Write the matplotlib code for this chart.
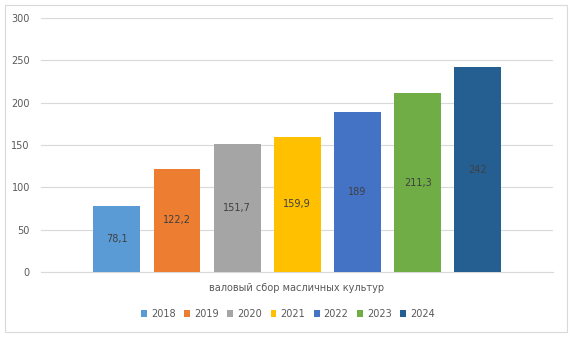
import matplotlib.pyplot as plt
from matplotlib.patches import Rectangle, Patch

years = ['2018', '2019', '2020', '2021', '2022', '2023', '2024']
values = [78.1, 122.2, 151.7, 159.9, 189, 211.3, 242]
value_labels = ['78,1', '122,2', '151,7', '159,9', '189', '211,3', '242']
colors = ['#5B9BD5', '#ED7D31', '#A5A5A5', '#FFC000', '#4472C4', '#70AD47', '#255E91']
category = 'валовый сбор масличных культур'
yticks = [0, 50, 100, 150, 200, 250, 300]

plt.rcParams['font.family'] = ['DejaVu Sans']

fig = plt.figure(figsize=(5.72, 3.37), dpi=100)
fig.patches.append(Rectangle((5 / 572, 5 / 337), 562 / 572, 327 / 337,
                             transform=fig.transFigure, fill=False,
                             edgecolor='#d9d9d9', linewidth=0.8))
ax = fig.add_axes([41 / 572, 65 / 337, 512 / 572, 254 / 337])

x = list(range(len(years)))
bars = ax.bar(x, values, width=0.78, color=colors, zorder=3)
for b, lab in zip(bars, value_labels):
    ax.text(b.get_x() + b.get_width() / 2, b.get_height() / 2, lab,
            ha='center', va='center', fontsize=7, color='#404040', zorder=4)

ax.set_xlim(-1.26, 7.25)
ax.set_ylim(0, 300)
ax.set_yticks(yticks)
ax.tick_params(axis='y', length=0, labelsize=7, labelcolor='#595959', pad=8)
ax.set_xticks([])
ax.grid(axis='y', color='#d9d9d9', linewidth=0.8, zorder=0)
for s in ['top', 'right', 'left']:
    ax.spines[s].set_visible(False)
ax.spines['bottom'].set_color('#d9d9d9')

fig.text(297 / 572, 1 - 288 / 337, category, ha='center', va='center',
         fontsize=7, color='#595959')

handles = [Patch(facecolor=c, label=y) for c, y in zip(colors, years)]
fig.legend(handles=handles, loc='center', bbox_to_anchor=(288 / 572, 1 - 314 / 337),
           ncol=7, frameon=False, fontsize=7, handlelength=0.6, handleheight=0.6,
           handletextpad=0.4, columnspacing=0.9, labelcolor='#595959')

fig.savefig('out.png', dpi=100)
